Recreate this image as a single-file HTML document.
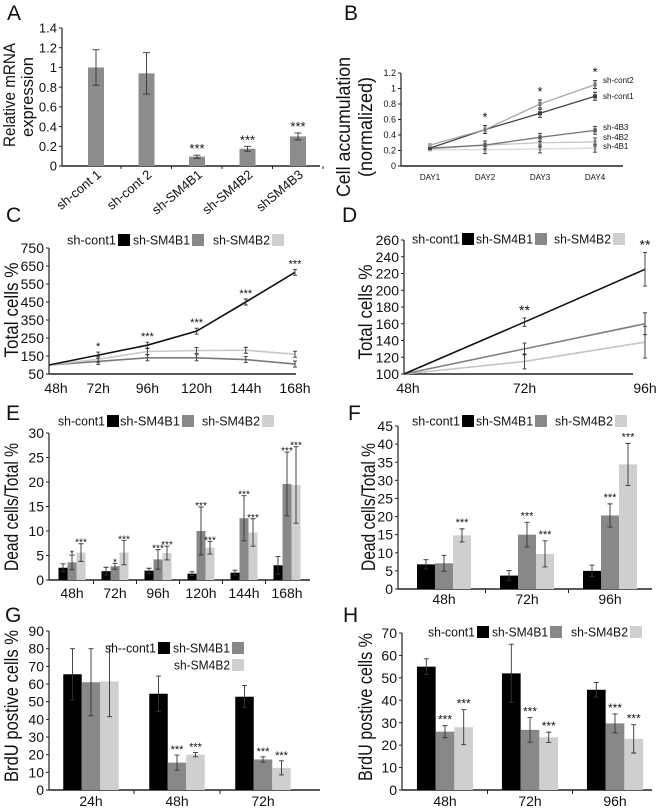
<!DOCTYPE html>
<html><head><meta charset="utf-8"><style>
html,body{margin:0;padding:0;background:#fff;}
svg{display:block;font-family:"Liberation Sans",Arial,sans-serif;}
</style></head><body>
<svg id="fig" width="660" height="808" viewBox="0 0 660 808">
<rect width="660" height="808" fill="#fff"/>
<g font-size="21" fill="#111">
<text x="7" y="20">A</text>
<text x="344" y="20">B</text>
<text x="6" y="222">C</text>
<text x="342" y="222">D</text>
<text x="6" y="420">E</text>
<text x="348" y="420">F</text>
<text x="5" y="622">G</text>
<text x="343" y="622">H</text>
</g>
</svg>
<script>
// ---- Panel A data
const aCats=['sh-cont 1','sh-cont 2','sh-SM4B1','sh-SM4B2','shSM4B3'];
const aVals=[1,0.94,0.095,0.175,0.30];
const aErr=[0.18,0.21,0.015,0.025,0.035];
const aStars=['','','***','***','***'];
const aTicks=[0,0.2,0.4,0.6,0.8,1,1.2,1.4];
const aTickLabels=['0','0.2','0.4','0.6','0.8','1','1.2','1.4'];
// ---- Panel B data
const bDays=['DAY1','DAY2','DAY3','DAY4'];
const bCont2=[0.27,0.47,0.80,1.05];
const bCont1=[0.23,0.47,0.68,0.90];
const b4B3=[0.23,0.27,0.37,0.46];
const b4B2=[0.22,0.27,0.30,0.31];
const b4B1=[0.21,0.21,0.22,0.23];
const bStars=['','*','*','*'];
const bTicks=[0,0.2,0.4,0.6,0.8,1,1.2];
const bTickLabels=['0','0.2','0.4','0.6','0.8','1','1.2'];
// ---- Panel C data
const cCats=['48h','72h','96h','120h','144h','168h'];
const cCont1=[100,155,210,288,450,615];
const cB1=[100,120,140,140,130,105];
const cB2=[100,132,175,180,182,160];
const cStars=['','*','***','***','***','***'];
const cTicks=[50,150,250,350,450,550,650,750];
// ---- Panel D data
const dCats=['48h','72h','96h'];
const dCont1=[100,162,225];
const dCont1Err=[0,5,20];
const dB1=[100,130,160];
const dB1Err=[0,7,13];
const dB2=[100,115,138];
const dB2Err=[0,9,19];
const dStars=['','**','**'];
const dTicks=[100,120,140,160,180,200,220,240,260];
// ---- Panel E data
const eCats=['48h','72h','96h','120h','144h','168h'];
const eCont1=[2.5,1.8,1.9,1.3,1.5,3.0];
const eCont1Err=[0.8,0.8,0.5,0.4,0.5,1.8];
const eB1=[3.6,2.8,4.2,10,12.6,19.6];
const eB1Err=[1.5,0.6,2,4.9,4.6,6.5];
const eB2=[5.6,5.6,5.5,6.6,9.7,19.4];
const eB2Err=[1.8,2.5,1.4,1.3,2.8,7.8];
const eB1Stars=['*','*','***','***','***','***'];
const eB2Stars=['***','***','***','***','***','***'];
const eTicks=[0,5,10,15,20,25,30];
// ---- Panel F data
const fCats=['48h','72h','96h'];
const fCont1=[6.8,3.7,5.0];
const fCont1Err=[1.3,1.4,1.6];
const fB1=[7.1,15,20.3];
const fB1Err=[2.2,3.4,3.2];
const fB2=[14.8,9.7,34.4];
const fB2Err=[1.8,3.6,5.8];
const fB1Stars=['','***','***'];
const fB2Stars=['***','***','***'];
const fTicks=[0,5,10,15,20,25,30,35,40,45];
// ---- Panel G data
const gCats=['24h','48h','72h'];
const gCont1=[65.5,54.5,52.8];
const gCont1Err=[14.5,10,6.3];
const gB1=[61,15.5,17.3];
const gB1Err=[19,4.3,1.5];
const gB2=[61.5,20,12.5];
const gB2Err=[20,1.2,4];
const gB1Stars=['','***','***'];
const gB2Stars=['','***','***'];
const gTicks=[0,10,20,30,40,50,60,70,80,90];
// ---- Panel H data
const hCats=['48h','72h','96h'];
const hCont1=[55,52,44.7];
const hCont1Err=[3.5,13,3.2];
const hB1=[26,26.8,29.7];
const hB1Err=[2.7,5.5,4.2];
const hB2=[28,23.5,22.8];
const hB2Err=[7.8,2.3,6.3];
const hB1Stars=['***','***','***'];
const hB2Stars=['***','***','***'];
const hTicks=[0,10,20,30,40,50,60,70];

const NS='http://www.w3.org/2000/svg';
const svg=document.getElementById('fig');
function mk(tag,attrs,parent){const e=document.createElementNS(NS,tag);for(const k in attrs)e.setAttribute(k,attrs[k]);(parent||svg).appendChild(e);return e;}
function tx(parent,x,y,s,size,anchor){const t=mk('text',{x:x,y:y,'font-size':size,'text-anchor':anchor||'start',fill:'#111'},parent);t.textContent=s;return t;}
function scale(y0,yTop,vmin,vmax){return v=>y0-(v-vmin)/(vmax-vmin)*(y0-yTop);}
function group(name){const g=mk('g',{});


return g;}
function axes(name,x0,y0,x1,yTop,sy,ticks,labels,fs){
  const g=group(name+'-axes');
  mk('line',{x1:x0,y1:y0,x2:x0,y2:yTop,stroke:'#222','stroke-width':1.2},g);
  mk('line',{x1:x0,y1:y0,x2:x1,y2:y0,stroke:'#222','stroke-width':1.6},g);
  ticks.forEach((v,i)=>{const y=sy(v);
    mk('line',{x1:x0-3,y1:y,x2:x0,y2:y,stroke:'#222','stroke-width':1},g);
    const t=tx(g,x0-5,y+fs*0.36,labels?labels[i]:String(v),fs,'end');
    
    
  });
  return g;
}
function ytitle(name,x,y,s,fs,len){const t=mk('text',{transform:'translate('+x+','+y+') rotate(-90)','font-size':fs,'text-anchor':'middle',fill:'#111'});
  if(len){t.setAttribute('textLength',len);t.setAttribute('lengthAdjust','spacingAndGlyphs');}
  t.textContent=s;
  
  }
function errbar(g,x,ya,yb,cap){mk('path',{d:'M'+x+' '+ya+'V'+yb+'M'+(x-cap)+' '+ya+'H'+(x+cap)+'M'+(x-cap)+' '+yb+'H'+(x+cap),stroke:'#333','stroke-width':0.9,fill:'none'},g);}
function legend(name,y,entries,fs){const g=group(name);
  entries.forEach(e=>{const t=tx(g,e[1],y+fs*0.36,e[0],fs,'start');
    t.setAttribute('textLength',e[2]-e[1]-2);
    t.setAttribute('lengthAdjust','spacingAndGlyphs');
    
    
    const r=mk('rect',{x:e[2],y:y-6,width:12,height:12,fill:e[3]},g);
    
    
  });}
function xlabels(g,xs,cats,y,fs){cats.forEach((c,i)=>{const t=tx(g,xs[i],y,c,fs,'middle');
  
  });}

// ===== Panel A
(function(){
  const x0=62,y0=166,yTop=28,sy=scale(y0,yTop,0,1.4);
  axes('panel-a',x0,y0,320,yTop,sy,aTicks,aTickLabels,13);
  const g=group('panel-a-bars');
  const cx=i=>96+i*50.5;
  aVals.forEach((v,i)=>{const r=mk('rect',{x:cx(i)-8,y:sy(v),width:16,height:y0-sy(v),fill:'#8c8c8c'},g);
    
    
    errbar(g,cx(i),sy(v+aErr[i]),sy(v-aErr[i]),3.5);
    if(aStars[i])tx(g,cx(i),sy(v+aErr[i])-2,aStars[i],13,'middle');
    mk('line',{x1:cx(i)+25,y1:y0,x2:cx(i)+25,y2:y0+3,stroke:'#222'},g);
    const t=mk('text',{transform:'translate('+(cx(i)+6)+',176) rotate(-40)','font-size':13,'text-anchor':'end',fill:'#111'},g);
    t.textContent=aCats[i];
    
    
  });
  ytitle('y-axis-title',15,95,'Relative mRNA',17,104);
  ytitle('y-axis-title-line2',33,97,'expression',17,80);
})();

// ===== Panel B
(function(){
  const x0=401,y0=166,yTop=73,sy=scale(y0,yTop,0,1.2);
  axes('panel-b',x0,y0,623,yTop,sy,bTicks,bTickLabels,9);
  const g=group('panel-b-lines');
  const xs=bDays.map((d,i)=>430+i*55);
  xlabels(g,xs,bDays,180,8);
  const series=[[b4B1,'#d8d8d8','sh-4B1',149],[b4B2,'#c4c4c4','sh-4B2',140],[b4B3,'#777','sh-4B3',130],[bCont1,'#444','sh-cont1',99],[bCont2,'#a8a8a8','sh-cont2',83]];
  series.forEach(s=>{const p=mk('polyline',{points:s[0].map((v,i)=>xs[i]+','+sy(v)).join(' '),fill:'none',stroke:s[1],'stroke-width':1.3},g);
    
    
    s[0].forEach((v,i)=>{mk('rect',{x:xs[i]-2,y:sy(v)-2,width:4,height:4,fill:s[1]},g);if(i>0)errbar(g,xs[i],sy(v)-4,sy(v)+4,2);});
    const t=tx(g,603,s[3],s[2],8,'start');
    
    
  });
  bStars.forEach((s,i)=>{if(s)tx(g,xs[i],sy(bCont2[i])-8,s,13,'middle');});
  ytitle('y-axis-title',350,127,'Cell accumulation',19,140);
  ytitle('y-axis-title-line2',372,127,'(normalized)',19,100);
})();

// ===== Panel C
(function(){
  const x0=49,y0=374,yTop=248,sy=scale(y0,yTop,50,750);
  axes('panel-c',x0,y0,296,yTop,sy,cTicks,null,14);
  const g=group('panel-c-lines');
  const xs=cCats.map((c,i)=>49+i*49.2);
  xlabels(g,xs.map((x,i)=>i==0?x+7:x),cCats,393,14);
  [[cB1,'#7a7a7a','sh-SM4B1'],[cB2,'#c8c8c8','sh-SM4B2'],[cCont1,'#111','sh-cont1']].forEach(s=>{
    const p=mk('polyline',{points:s[0].map((v,i)=>xs[i]+','+sy(v)).join(' '),fill:'none',stroke:s[1],'stroke-width':1.6},g);
    
    
    s[0].forEach((v,i)=>{if(i>0)errbar(g,xs[i],sy(v)-3,sy(v)+3,2);});
  });
  cStars.forEach((s,i)=>{if(s)tx(g,xs[i],sy(cCont1[i])-5,s,11,'middle');});
  legend('panel-c-legend',240,[['sh-cont1',67,118,'#000'],['sh-SM4B1',133,192,'#888'],['sh-SM4B2',213,272,'#cfcfcf']],13);
  ytitle('y-axis-title-c',18,310,'Total cells %',19,95);
})();

// ===== Panel D
(function(){
  const x0=404,y0=374,yTop=240,sy=scale(y0,yTop,100,260);
  axes('panel-d',x0,y0,633,yTop,sy,dTicks,null,14);
  const g=group('panel-d-lines');
  const xs=dCats.map((c,i)=>404+i*120.5);
  xlabels(g,xs.map((x,i)=>i==0?x+4:x),dCats,393,14);
  [[dB2,dB2Err,'#c4c4c4','sh-SM4B2'],[dB1,dB1Err,'#808080','sh-SM4B1'],[dCont1,dCont1Err,'#111','sh-cont1']].forEach(s=>{
    const p=mk('polyline',{points:s[0].map((v,i)=>xs[i]+','+sy(v)).join(' '),fill:'none',stroke:s[2],'stroke-width':1.6},g);
    
    
    s[0].forEach((v,i)=>{if(i>0)errbar(g,xs[i],sy(v+s[1][i]),sy(v-s[1][i]),2);});
  });
  dStars.forEach((s,i)=>{if(s)tx(g,xs[i],sy(dCont1[i]+dCont1Err[i])-3,s,14,'middle');});
  legend('panel-d-legend',239,[['sh-cont1',412,462,'#000'],['sh-SM4B1',476,535,'#888'],['sh-SM4B2',554,613,'#cfcfcf']],13);
  ytitle('y-axis-title-d',372,312,'Total cells %',19,95);
})();

// ===== generic grouped bar panel
function barPanel(p){
  const sy=scale(p.y0,p.yTop,p.ticks[0],p.ticks[p.ticks.length-1]);
  const ga=axes(p.name,p.x0,p.y0,p.x1,p.yTop,sy,p.ticks,null,14);
  const g=group(p.name+'-bars');
  const cols=['#000','#888','#cfcfcf'];
  const names=['sh-cont1','sh-SM4B1','sh-SM4B2'];
  const cx=i=>p.c0+i*p.sp;
  [p.s0,p.s1,p.s2].forEach((vals,j)=>{const errs=[p.e0,p.e1,p.e2][j];
    vals.forEach((v,i)=>{const x=cx(i)+(j-1)*p.w;
      const r=mk('rect',{x:x-p.w/2,y:sy(v),width:p.w,height:p.y0-sy(v),fill:cols[j]},g);
      
      
      errbar(g,x,sy(v+errs[i]),sy(Math.max(v-errs[i],0)),2.5);
      const st=j==1?p.st1[i]:(j==2?p.st2[i]:'');
      if(st)tx(g,x,sy(v+errs[i])+p.so,st,p.sf,'middle');
    });
  });
  p.cats.forEach((c,i)=>{if(i>0)mk('line',{x1:cx(i)-p.sp/2,y1:p.y0,x2:cx(i)-p.sp/2,y2:p.y0+4,stroke:'#222'},ga);});
  xlabels(ga,p.cats.map((c,i)=>cx(i)),p.cats,p.ly,14);
}

barPanel({name:'panel-e',x0:49,y0:580,x1:310,yTop:433,ticks:eTicks,cats:eCats,c0:72,sp:43,w:9,
  s0:eCont1,s1:eB1,s2:eB2,e0:eCont1Err,e1:eB1Err,e2:eB2Err,st1:eB1Stars,st2:eB2Stars,ly:598,sf:10,so:2});
legend('panel-e-legend',421,[['sh-cont1',58,107,'#000'],['sh-SM4B1',120,182,'#888'],['sh-SM4B2',202,262,'#cfcfcf']],13);
ytitle('y-axis-title-e',18,507,'Dead cells/Total %',19,128);

barPanel({name:'panel-f',x0:398,y0:589,x1:652,yTop:426,ticks:fTicks,cats:fCats,c0:444,sp:83,w:18,
  s0:fCont1,s1:fB1,s2:fB2,e0:fCont1Err,e1:fB1Err,e2:fB2Err,st1:fB1Stars,st2:fB2Stars,ly:604,sf:11,so:-3});
legend('panel-f-legend',421,[['sh-cont1',412,462,'#000'],['sh-SM4B1',476,535,'#888'],['sh-SM4B2',555,615,'#cfcfcf']],13);
ytitle('y-axis-title-f',375,507,'Dead cells/Total %',19,128);

barPanel({name:'panel-g',x0:49,y0:790,x1:320,yTop:631,ticks:gTicks,cats:gCats,c0:91,sp:86,w:18.5,
  s0:gCont1,s1:gB1,s2:gB2,e0:gCont1Err,e1:gB1Err,e2:gB2Err,st1:gB1Stars,st2:gB2Stars,ly:806,sf:11,so:-2});
legend('panel-g-legend',648,[['sh--cont1',105,158,'#000'],['sh-SM4B1',173,232,'#888']],13);
legend('panel-g-legend-2',665,[['sh-SM4B2',174,232,'#cfcfcf']],13);
ytitle('y-axis-title-g',18,706,'BrdU postive cells %',19,152);

barPanel({name:'panel-h',x0:402,y0:790,x1:652,yTop:633,ticks:hTicks,cats:hCats,c0:445,sp:85,w:18.7,
  s0:hCont1,s1:hB1,s2:hB2,e0:hCont1Err,e1:hB1Err,e2:hB2Err,st1:hB1Stars,st2:hB2Stars,ly:806,sf:12,so:-2});
legend('panel-h-legend',632,[['sh-cont1',428,477,'#000'],['sh-SM4B1',492,550,'#888'],['sh-SM4B2',571,630,'#cfcfcf']],13);
ytitle('y-axis-title-h',372,707,'BrdU postive cells %',19,148);
</script>
</body></html>
